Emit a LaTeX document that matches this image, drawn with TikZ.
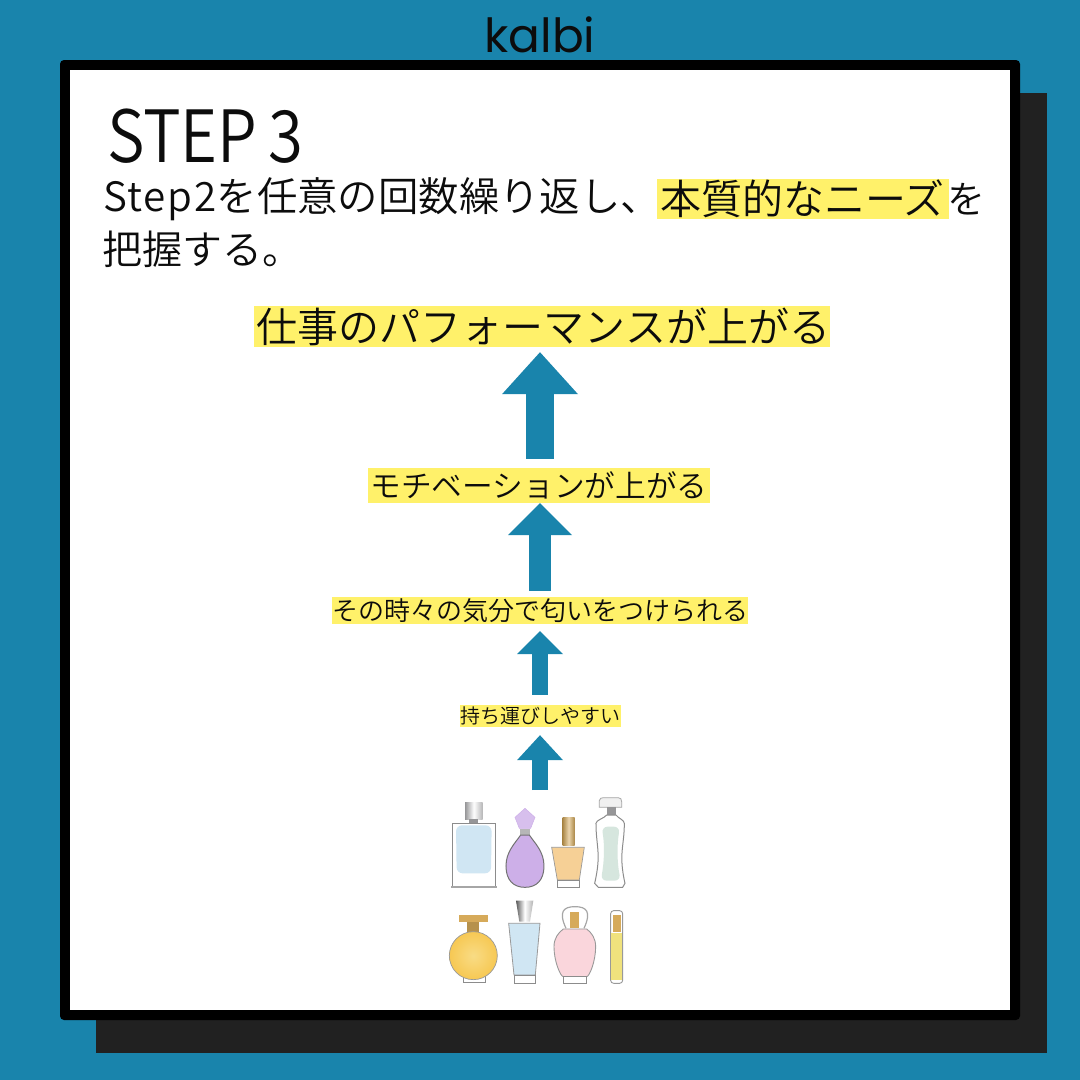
\documentclass[tikz,border=0pt]{standalone}
\usepackage{fontspec}
\setmainfont{Noto Sans CJK JP}[UprightFont=* DemiLight]
\newfontfamily\logofont{Poppins}
\usetikzlibrary{arrows.meta}
\definecolor{teal}{RGB}{25,132,172}
\definecolor{hl}{RGB}{255,241,106}
\definecolor{ink}{RGB}{12,12,12}
\definecolor{silver}{RGB}{150,150,152}
\definecolor{gold}{RGB}{214,170,90}
\definecolor{liqblue}{RGB}{208,230,243}
\definecolor{liqlilac}{RGB}{205,175,232}
\definecolor{liqorange}{RGB}{246,208,150}
\definecolor{liqgreen}{RGB}{214,230,222}
\definecolor{liqgold}{RGB}{246,208,92}
\definecolor{liqpink}{RGB}{250,214,220}
\definecolor{liqyellow}{RGB}{240,226,125}
\tikzset{
  lab/.style={fill=hl,inner sep=0pt,text=ink},
  txt/.style={inner sep=0pt,anchor=west,text=ink},
  glass/.style={draw=black!45,line width=.9pt,fill=white},
}
\newcommand{\fs}[1]{\fontsize{#1}{#1}\selectfont}
\begin{document}
\begin{tikzpicture}[x=1pt,y=-1pt]
\useasboundingbox (0,0) rectangle (1080,1080);
\fill[teal] (0,0) rectangle (1080,1080);
\fill[black!87] (96,93) rectangle (1047,1053);
\fill[black,rounded corners=4pt] (60,60) rectangle (1020,1020);
\fill[white] (70,70) rectangle (1010,1010);
\node[inner sep=0pt,text=ink] (logo) at (540,35) {\logofont\fs{47}kalbi};
\node[txt,xscale=.88] (title) at (107,136) {\fs{72}STEP\,3};
\node[txt] (l1a) at (103,199) {\fs{40.4}{\addfontfeature{LetterSpace=4.4}Step2}を任意の回数繰り返し、};
\node[lab,minimum width=292pt,minimum height=40pt] (l1b) at (802.5,199) {\fs{41}本質的なニーズ};
\node[txt] (l1c) at (947,199) {\fs{38}を};
\node[txt] (l2a) at (102,249) {\fs{40}把握する。};
\node[lab,minimum width=576pt,minimum height=41pt] (n1) at (542,326.5) {\hspace{3pt}\fs{41}仕事のパフォーマンスが上がる};
\node[lab,minimum width=342pt,minimum height=35pt] (n2) at (539,485.5) {\fs{30.7}モチベーションが上がる};
\node[lab,minimum width=416pt,minimum height=27pt] (n3) at (540,610.5) {\fs{26}その時々の気分で匂いをつけられる};
\node[lab,minimum width=161pt,minimum height=22pt] (n4) at (540.5,716) {\fs{20}持ち運びしやすい};
\coordinate (bottles) at (540,790);
\draw[teal,line width=28pt,shorten <=9pt,shorten >=5pt,-{Triangle[length=42pt,width=76pt,line width=0pt]}] (n3.north |- n2.north) -- (n3.north |- n1.south);
\draw[teal,line width=22pt,shorten <=6pt,-{Triangle[length=32pt,width=64pt,line width=0pt]}] (n3.north) -- (n3.north |- n2.south);
\draw[teal,line width=16pt,shorten <=10pt,shorten >=7pt,-{Triangle[length=23pt,width=46pt,line width=0pt]}] (n3.south |- n4.north) -- (n3.south);
\draw[teal,line width=16pt,shorten >=8pt,-{Triangle[length=25pt,width=46pt,line width=0pt]}] (bottles) -- (bottles |- n4.south);
% perfume bottles, in 3x crop coordinates
\begin{scope}[shift={(430,780)},x=.3333pt,y=-.3333pt]
% 1 blue square
\shade[left color=silver,right color=silver!70,middle color=white] (105,68) rectangle (158,118);
\fill[silver] (118,118) rectangle (145,130);
\draw[glass] (68,130) rectangle (195,320);
\fill[liqblue,rounded corners=6pt] (78,136) -- (185,136) -- (183,280) -- (80,280) -- cycle;
\fill[black!35] (62,318) rectangle (200,323);
% 2 lilac drop
\fill[liqlilac!80!white,draw=liqlilac,line width=.5pt] (255,112) -- (285,85) -- (315,112) -- (302,145) -- (268,145) -- cycle;
\fill[silver!70] (270,147) rectangle (300,165);
\draw[black!55,line width=1pt,fill=liqlilac] (272,165) .. controls (255,190) and (228,215) .. (228,258) .. controls (228,300) and (250,322) .. (285,322) .. controls (320,322) and (342,300) .. (342,258) .. controls (342,215) and (315,190) .. (298,165) -- cycle;
% 3 orange
\shade[left color=gold!80!black,right color=gold!80!black,middle color=gold!50!white] (398,112) rectangle (434,196);
\draw[black!40,line width=.7pt,fill=liqorange] (365,202) -- (463,202) -- (448,300) -- (382,300) -- cycle;
\draw[glass] (382,300) rectangle (448,322);
% 4 green
\draw[black!35,line width=.8pt,fill=black!6] (508,62) .. controls (508,55) and (515,53) .. (520,53) -- (565,53) .. controls (572,53) and (575,58) .. (575,65) -- (575,82) -- (508,82) -- cycle;
\fill[silver] (530,82) rectangle (558,105);
\draw[black!45,line width=1pt,fill=white] (530,105) -- (558,105) .. controls (565,115) and (583,120) .. (583,130) .. controls (583,200) and (565,220) .. (585,310) -- (578,322) -- (505,322) -- (494,310) .. controls (515,220) and (498,200) .. (498,130) .. controls (498,120) and (523,115) .. (530,105) -- cycle;
\fill[liqgreen,rounded corners=6pt] (515,140) .. controls (525,200) and (522,250) .. (512,302) -- (572,302) .. controls (562,250) and (560,200) .. (570,140) -- cycle;
% 5 yellow round
\fill[gold] (88,405) rectangle (175,425);
\fill[gold!85!black] (112,425) rectangle (148,462);
\draw[glass] (100,590) rectangle (165,608);
\shade[draw=black!40,line width=.7pt,inner color=liqgold!75!white,outer color=liqgold!90!orange] (130,527) circle (72);
% 6 light blue
\shade[left color=black!65,right color=black!30,middle color=white] (258,362) -- (310,362) -- (300,425) -- (268,425) -- cycle;
\draw[black!40,line width=.8pt,fill=liqblue] (236,430) -- (330,430) -- (316,585) -- (252,585) -- cycle;
\draw[glass] (252,585) rectangle (316,610);
% 7 pink
\draw[black!35,line width=1.2pt] (408,445) .. controls (385,395) and (400,380) .. (435,380) .. controls (470,380) and (485,395) .. (462,445);
\fill[gold] (420,397) rectangle (448,445);
\draw[black!40,line width=.9pt,fill=liqpink] (400,447) -- (470,447) .. controls (485,458) and (497,475) .. (497,500) .. controls (497,545) and (478,590) .. (470,590) -- (400,590) .. controls (392,590) and (372,545) .. (372,500) .. controls (372,475) and (385,458) .. (400,447) -- cycle;
\draw[glass] (400,590) rectangle (470,610);
% 8 thin yellow
\draw[black!40,line width=.9pt,fill=white,rounded corners=3pt] (542,392) rectangle (578,610);
\fill[gold] (548,405) rectangle (572,455);
\fill[liqyellow] (543,458) rectangle (577,600);
\end{scope}
\end{tikzpicture}
\end{document}
